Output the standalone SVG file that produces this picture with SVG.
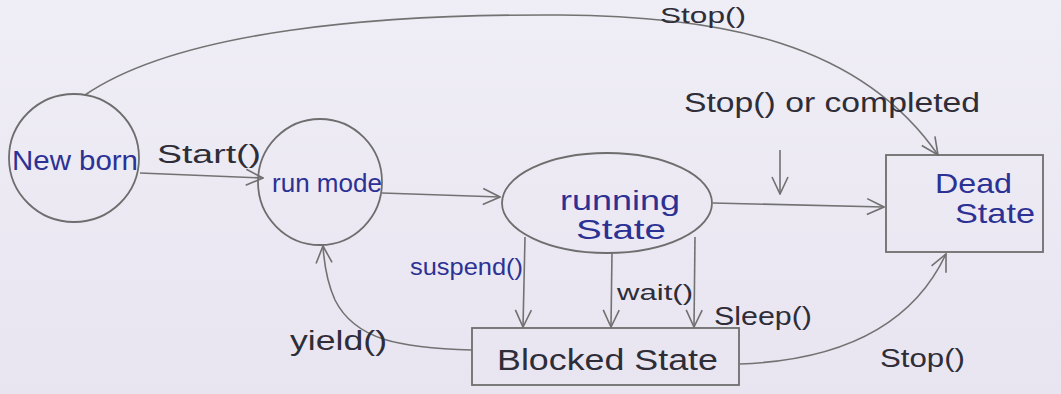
<svg xmlns="http://www.w3.org/2000/svg" width="1061" height="394" viewBox="0 0 1061 394">
<defs>
<linearGradient id="bg" x1="0" y1="0" x2="0" y2="1">
<stop offset="0" stop-color="#efedf5"/>
<stop offset="1" stop-color="#e8e5f1"/>
</linearGradient>
<marker id="ah" viewBox="0 0 20 20" refX="19" refY="10" markerWidth="20" markerHeight="20" markerUnits="userSpaceOnUse" orient="auto">
<path d="M2,2 L19,10 L2,18" fill="none" stroke="#707070" stroke-width="1.6"/>
</marker>
</defs>
<style>
.shape{fill:none;stroke:#6e6e6e;stroke-width:1.8}
.edge{fill:none;stroke:#727272;stroke-width:1.6;marker-end:url(#ah)}
.blue{fill:#2c3194;font-family:"Liberation Sans",Arial,sans-serif}
.dark{fill:#2e2d38;font-family:"Liberation Sans",Arial,sans-serif}
</style>
<rect x="0" y="0" width="1061" height="394" fill="url(#bg)"/>

<g id="connectors">
<path class="edge" d="M140,173 L263,178"/>
<path class="edge" d="M382,193 L500,197"/>
<path class="edge" d="M713,203 L884,207"/>
<path class="edge" d="M85,95 C180,30 380,14 560,15 C720,16 860,42 938,155"/>
<path class="edge" d="M780,150 L780,194"/>
<path class="edge" d="M525,237 L523,327"/>
<path class="edge" d="M612,252 L611,327"/>
<path class="edge" d="M695,237 L694,327"/>
<path class="edge" d="M472,350 C400,348 355,340 335,300 C326,280 324,262 323,246"/>
<path class="edge" d="M740,364 C850,360 915,320 946,254"/>
</g>

<g id="newborn">
<ellipse class="shape" cx="74" cy="158" rx="65" ry="64"/>
<text class="blue" x="12" y="170" font-size="28" textLength="126" lengthAdjust="spacingAndGlyphs">New born</text>
</g>
<g id="runmode">
<ellipse class="shape" cx="320" cy="182" rx="62" ry="63"/>
<text class="blue" x="272" y="192" font-size="26" textLength="110" lengthAdjust="spacingAndGlyphs">run mode</text>
</g>
<g id="running">
<ellipse class="shape" cx="607" cy="203" rx="105" ry="50"/>
<text class="blue" x="560" y="210" font-size="28" textLength="120" lengthAdjust="spacingAndGlyphs">running</text>
<text class="blue" x="576" y="239" font-size="28" textLength="90" lengthAdjust="spacingAndGlyphs">State</text>
</g>
<g id="dead">
<rect class="shape" x="886" y="155" width="157" height="97"/>
<text class="blue" x="935" y="193" font-size="28" textLength="77" lengthAdjust="spacingAndGlyphs">Dead</text>
<text class="blue" x="955" y="223" font-size="28" textLength="80" lengthAdjust="spacingAndGlyphs">State</text>
</g>
<g id="blocked">
<rect class="shape" x="472" y="328" width="267" height="57"/>
<text class="dark" x="497" y="370" font-size="30" textLength="221" lengthAdjust="spacingAndGlyphs">Blocked State</text>
</g>

<g id="labels">
<text class="dark" x="157" y="163" font-size="26" textLength="104" lengthAdjust="spacingAndGlyphs">Start()</text>
<text class="dark" x="660" y="23" font-size="22" textLength="86" lengthAdjust="spacingAndGlyphs">Stop()</text>
<text class="dark" x="684" y="112" font-size="27" textLength="296" lengthAdjust="spacingAndGlyphs">Stop() or completed</text>
<text class="blue" x="410" y="275" font-size="24" textLength="113" lengthAdjust="spacingAndGlyphs">suspend()</text>
<text class="dark" x="617" y="300" font-size="22" textLength="76" lengthAdjust="spacingAndGlyphs">wait()</text>
<text class="dark" x="714" y="325" font-size="26" textLength="98" lengthAdjust="spacingAndGlyphs">Sleep()</text>
<text class="dark" x="290" y="350" font-size="28" textLength="97" lengthAdjust="spacingAndGlyphs">yield()</text>
<text class="dark" x="880" y="367" font-size="25" textLength="85" lengthAdjust="spacingAndGlyphs">Stop()</text>
</g>
</svg>
